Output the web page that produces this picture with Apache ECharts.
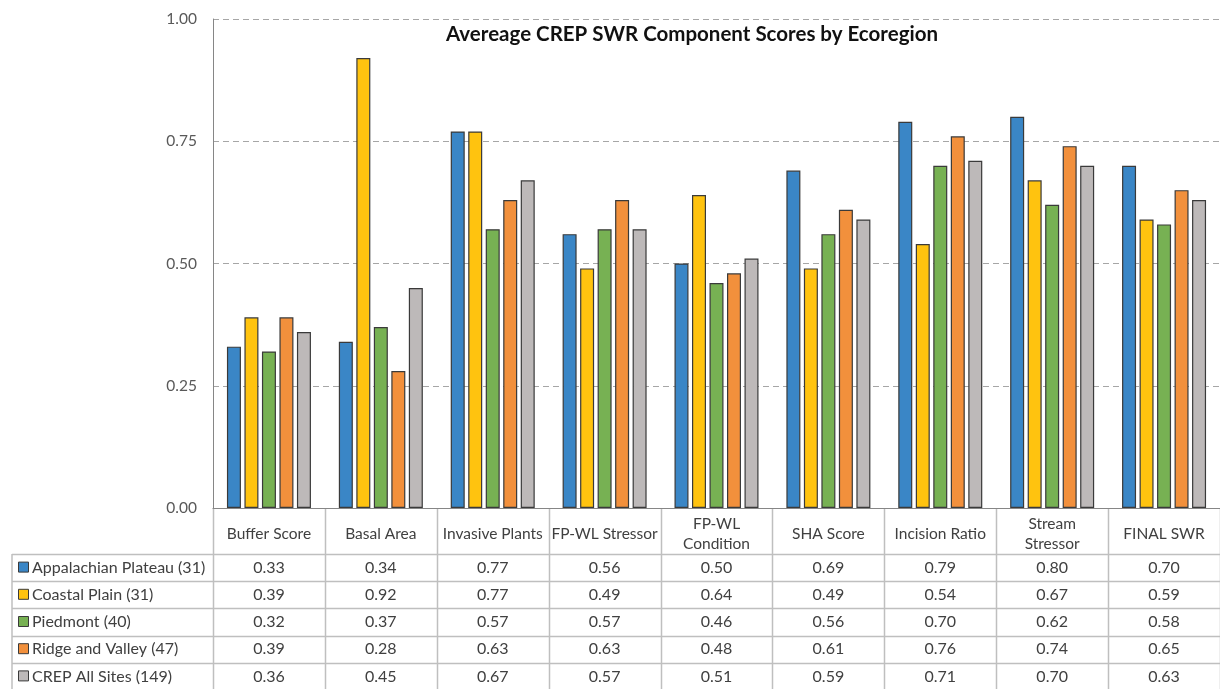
<!DOCTYPE html>
<html>
<head>
<meta charset="utf-8">
<script src="https://cdn.jsdelivr.net/npm/echarts@6/dist/echarts.min.js"></script>
<style>
  html, body { margin: 0; padding: 0; background: #fff; }
  #chart { width: 1220px; height: 689px; }
</style>
</head>
<body>
<div id="chart"></div>
<script>
  // chart data
  const categories = ['Buffer Score', 'Basal Area', 'Invasive Plants', 'FP-WL Stressor', 'FP-WL\nCondition',
    'SHA Score', 'Incision Ratio', 'Stream\nStressor', 'FINAL SWR']
  const regionNames = ['Appalachian Plateau (31)', 'Coastal Plain (31)', 'Piedmont (40)',
    'Ridge and Valley (47)', 'CREP All Sites (149)']
  const appalachian = [0.33, 0.34, 0.77, 0.56, 0.50, 0.69, 0.79, 0.80, 0.70]
  const coastal = [0.39, 0.92, 0.77, 0.49, 0.64, 0.49, 0.54, 0.67, 0.59]
  const piedmont = [0.32, 0.37, 0.57, 0.57, 0.46, 0.56, 0.70, 0.62, 0.58]
  const ridgeValley = [0.39, 0.28, 0.63, 0.63, 0.48, 0.61, 0.76, 0.74, 0.65]
  const allSites = [0.36, 0.45, 0.67, 0.57, 0.51, 0.59, 0.71, 0.70, 0.63]
  const yTicks = [0, 0.25, 0.5, 0.75, 1]

  const seriesData = [appalachian, coastal, piedmont, ridgeValley, allSites]
  const colors = ['#3a86c6', '#ffc30f', '#77b153', '#f2903c', '#bdb9b9']
  const font = 'Lato, "Open Sans", sans-serif'
  const textColor = '#404040'
  const lineColor = '#bfbfbf'

  const chart = echarts.init(document.getElementById('chart'), null, { renderer: 'canvas' })

  const option = {
    animation: false,
    backgroundColor: '#fff',
    textStyle: { fontFamily: font },
    grid: { left: 213, top: 19, width: 1011, height: 489 },
    xAxis: {
      type: 'category',
      data: categories,
      axisTick: { show: false },
      axisLine: { lineStyle: { color: '#868686', width: 1 } },
      axisLabel: {
        interval: 0,
        margin: 26,
        verticalAlign: 'middle',
        color: textColor,
        fontSize: 15.5,
        lineHeight: 20,
        fontFamily: font
      }
    },
    yAxis: {
      type: 'value',
      min: yTicks[0],
      max: yTicks[yTicks.length - 1],
      interval: 0.25,
      axisLine: { show: true, lineStyle: { color: '#868686', width: 1 } },
      axisTick: { show: false },
      axisLabel: {
        margin: 16,
        color: '#595959',
        fontSize: 15.5,
        fontFamily: font,
        formatter: v => v.toFixed(2)
      },
      splitLine: { lineStyle: { color: '#a6a6a6', type: [6, 4], width: 1 } }
    },
    series: seriesData.map((d, i) => ({
      name: regionNames[i],
      type: 'bar',
      data: d,
      barWidth: 14,
      barGap: '25%',
      itemStyle: { color: colors[i], borderColor: '#3a3a3a', borderWidth: 1.2 }
    }))
  }
  chart.setOption(option)

  // data table underneath, laid out from the category axis
  const band = chart.convertToPixel({ xAxisIndex: 0 }, 1) - chart.convertToPixel({ xAxisIndex: 0 }, 0)
  const x0 = chart.convertToPixel({ xAxisIndex: 0 }, 0) - band / 2
  const yBase = chart.convertToPixel({ yAxisIndex: 0 }, 0)
  const headerBottom = 554
  const rowH = 27.2
  const tableLeft = 12
  const tableBottom = 700
  const g = []

  // title
  g.push({
    type: 'text', x: 692, y: 34,
    style: { text: 'Avereage CREP SWR Component Scores by Ecoregion', font: 'bold 20.5px ' + font,
      fill: '#111', align: 'center', verticalAlign: 'middle' }
  })

  // vertical lines
  for (let i = 0; i <= categories.length; i++) {
    const x = Math.round(x0 + i * band) + 0.5
    g.push({ type: 'line', shape: { x1: x, y1: yBase, x2: x, y2: tableBottom },
      style: { stroke: lineColor, lineWidth: 1.5 } })
  }
  g.push({ type: 'line', shape: { x1: tableLeft, y1: headerBottom, x2: tableLeft, y2: tableBottom },
    style: { stroke: lineColor, lineWidth: 1.5 } })

  // horizontal lines
  for (let r = 0; r < regionNames.length; r++) {
    const y = Math.round(headerBottom + r * rowH) + 0.5
    g.push({ type: 'line', shape: { x1: tableLeft, y1: y, x2: 1220, y2: y },
      style: { stroke: lineColor, lineWidth: 1.5 } })
  }

  // rows
  regionNames.forEach((name, r) => {
    const cy = headerBottom + r * rowH + rowH / 2
    g.push({ type: 'rect', shape: { x: 18.5, y: cy - 5.5, width: 10, height: 10 },
      style: { fill: colors[r], stroke: '#3a3a3a', lineWidth: 1 } })
    g.push({ type: 'text', x: 32, y: cy,
      style: { text: name, font: '16px ' + font, fill: textColor, align: 'left', verticalAlign: 'middle' } })
    seriesData[r].forEach((v, c) => {
      g.push({ type: 'text', x: x0 + (c + 0.5) * band, y: cy,
        style: { text: v.toFixed(2), font: '16px ' + font, fill: textColor, align: 'center', verticalAlign: 'middle' } })
    })
  })

  chart.setOption({ graphic: { elements: g } })
</script>
</body>
</html>
